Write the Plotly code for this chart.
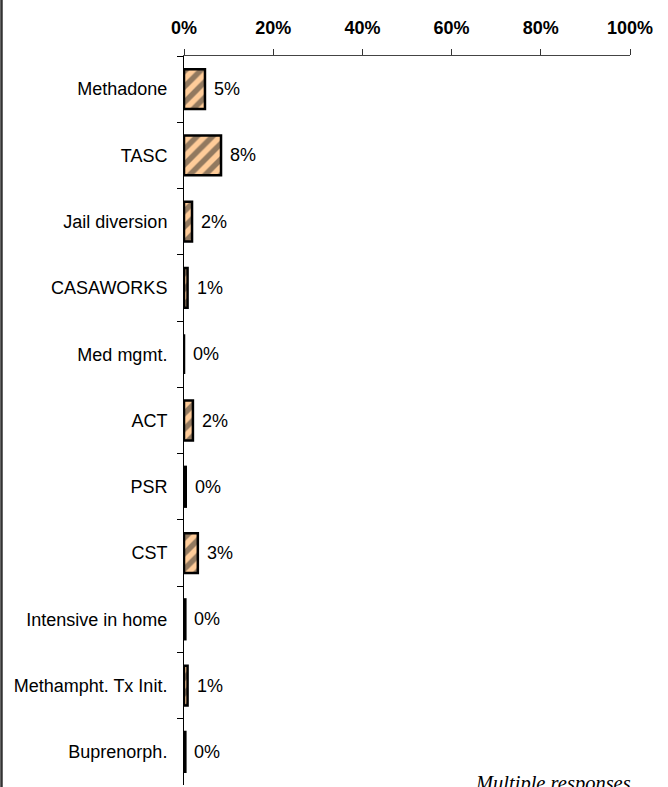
import plotly.graph_objects as go

# programs (top to bottom) and share of respondents, percent
programs = ["Methadone", "TASC", "Jail diversion", "CASAWORKS", "Med mgmt.", "ACT",
            "PSR", "CST", "Intensive in home", "Methampht. Tx Init.", "Buprenorph."]
shares = [4.7, 8.3, 1.8, 0.8, 0.0, 2.0, 0.4, 3.1, 0.3, 0.8, 0.3]
x_ticks = [0, 20, 40, 60, 80, 100]
note = "Multiple responses"

W, H = 668, 787
ml, mr, mt, mb = 184, 38, 56, 2
pw, ph = W - ml - mr, H - mt - mb
ARIAL = "Arial, Liberation Sans"

fig = go.Figure()
fig.add_trace(go.Bar(
    x=shares, y=programs, orientation="h", width=0.6,
    marker=dict(color="#FFCC99",
                line=dict(color="black", width=2.5),
                pattern=dict(shape="/", fgcolor="#262626", bgcolor="#FFCC99",
                             size=11, solidity=0.5)),
    hoverinfo="skip", showlegend=False,
))

# value labels to the right of each bar
for p, v in zip(programs, shares):
    fig.add_annotation(x=v, y=p, text=f"{round(v)}%", showarrow=False,
                       xanchor="left", xshift=7,
                       font=dict(family=ARIAL, size=18, color="black"))

fig.add_annotation(xref="paper", yref="paper", x=1, y=0, xanchor="right", yanchor="bottom",
                   xshift=3, yshift=-12, text=note, showarrow=False,
                   font=dict(family="Times New Roman, Liberation Serif", size=20.5,
                             color="black", style="italic"))

# frame line on the left edge
fx = -(ml - 1.5) / pw
fig.add_shape(type="line", xref="paper", yref="paper", x0=fx, x1=fx,
              y0=-mb / ph - 0.01, y1=1 + mt / ph + 0.01,
              line=dict(color="#333333", width=2.5))

fig.update_layout(
    width=W, height=H,
    margin=dict(l=ml, r=mr, t=mt, b=mb),
    plot_bgcolor="white", paper_bgcolor="white",
    font=dict(family=ARIAL, size=18, color="black"),
)
fig.update_xaxes(
    side="top", range=[0, 100], tickvals=x_ticks, ticktext=[f"{t}%" for t in x_ticks],
    tickfont=dict(family=ARIAL, size=18, color="black", weight="bold"),
    ticks="outside", ticklen=6, tickcolor="#333333", showgrid=False, zeroline=False,
    showline=True, linecolor="#444444", linewidth=1, ticklabelstandoff=8,
)
fig.update_yaxes(
    autorange="reversed", ticks="outside", ticklen=6, tickcolor="black",
    tickson="boundaries", showgrid=False, zeroline=False,
    showline=True, linecolor="black", linewidth=1, ticklabelstandoff=12,
)

fig.write_html("out.html", config={"displayModeBar": False},
               post_script="document.body.style.margin='0';document.body.style.overflow='hidden';")
